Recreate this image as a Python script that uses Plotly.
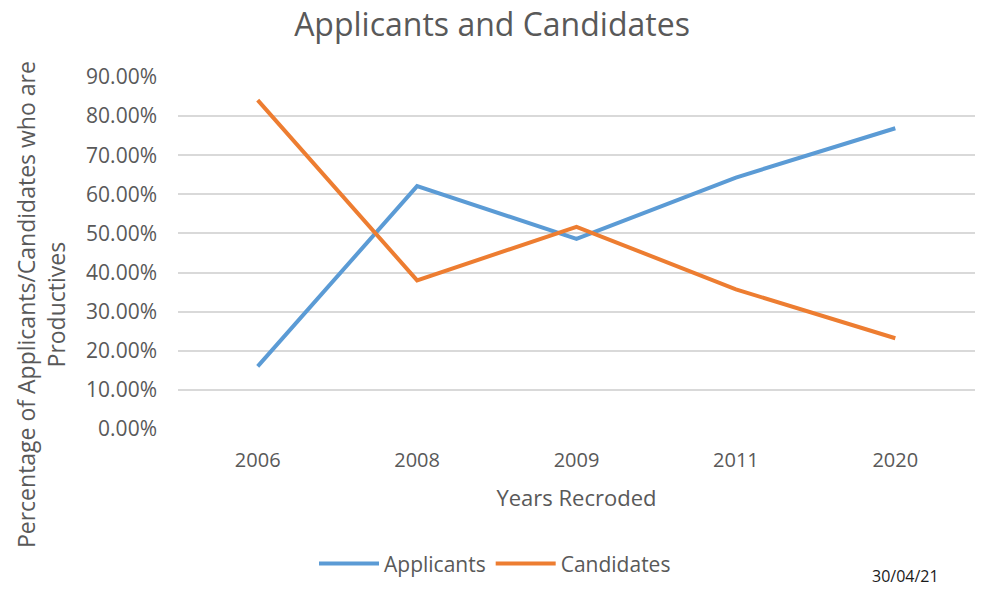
import plotly.graph_objects as go

years = ["2006", "2008", "2009", "2011", "2020"]
applicants = [0.160, 0.621, 0.486, 0.643, 0.769]
candidates = [0.841, 0.380, 0.517, 0.357, 0.232]
y_ticks = [0.0, 0.1, 0.2, 0.3, 0.4, 0.5, 0.6, 0.7, 0.8, 0.9]
y_tick_labels = ["0.00%", "10.00%", "20.00%", "30.00%", "40.00%", "50.00%",
                 "60.00%", "70.00%", "80.00%", "90.00%"]

FONT = "Open Sans"
GREY = "#595959"

fig = go.Figure()
fig.add_trace(go.Scatter(x=years, y=applicants, mode="lines", name="Applicants",
                         line=dict(color="#5b9bd5", width=4)))
fig.add_trace(go.Scatter(x=years, y=candidates, mode="lines", name="Candidates",
                         line=dict(color="#ed7d31", width=4)))

L, R, T, B = 178, 9, 77, 161
W, H = 984, 593
pa_w = W - L - R
pa_h = H - T - B

def px(x):
    return (x - L) / pa_w

def py(y):
    return (H - B - y) / pa_h

fig.update_layout(
    width=W, height=H,
    paper_bgcolor="white", plot_bgcolor="white",
    margin=dict(l=L, r=R, t=T, b=B),
    font=dict(family=FONT, color=GREY, size=19),
    title=dict(text="Applicants and Candidates", x=0.5, xanchor="center",
               xref="container", y=1 - 25 / H, yanchor="middle", yref="container",
               font=dict(family=FONT, size=32, color=GREY)),
    showlegend=True,
    legend=dict(orientation="h", x=px(495), xanchor="center", y=py(568), yanchor="middle",
                font=dict(family=FONT, size=21, color=GREY),
                itemwidth=60,
                bgcolor="rgba(0,0,0,0)"),
    xaxis=dict(type="category", range=[-0.5, 4.5], showgrid=False, zeroline=False,
               showline=False, ticks="", ticklabelstandoff=17,
               tickfont=dict(family=FONT, size=20, color=GREY),
               title=dict(text="Years Recroded", font=dict(family=FONT, size=22, color=GREY),
                          standoff=18)),
    yaxis=dict(range=[0, 0.9], tickvals=y_ticks, ticktext=y_tick_labels,
               showgrid=True, gridcolor="#d9d9d9", gridwidth=2, zeroline=False,
               showline=False, ticks="", ticklabelstandoff=20,
               tickfont=dict(family=FONT, size=21, color=GREY)),
    annotations=[
        dict(text="Percentage of Applicants/Candidates who are<br>Productives",
             x=px(41), y=py(307), xref="paper", yref="paper", showarrow=False,
             xanchor="center", yanchor="middle",
             textangle=-90, font=dict(family=FONT, size=23, color=GREY),
             align="center"),
        dict(text="30/04/21", x=px(905), y=py(580), xref="paper", yref="paper",
             xanchor="center", yanchor="middle",
             showarrow=False, font=dict(family=FONT, size=16, color="#1a1a1a")),
    ],
)

fig.write_html("out.html")
